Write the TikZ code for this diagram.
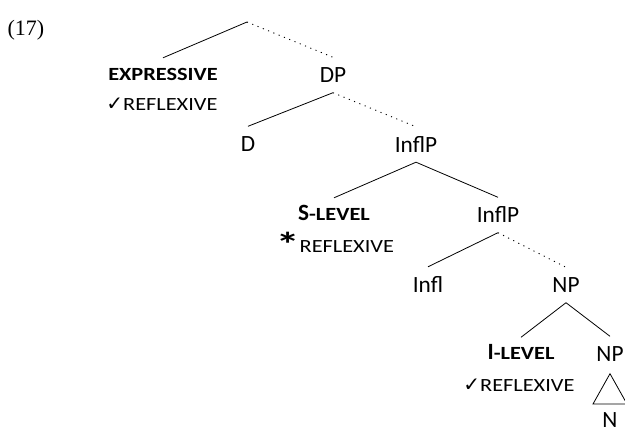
\documentclass[tikz,border=0pt]{standalone}
\usepackage{fontspec}
\usepackage{graphicx}
\setmainfont{Carlito}
\newfontfamily\exnumfont{Liberation Serif}
\newfontfamily\symfont{DejaVu Sans}
\newcommand\smc[1]{\scalebox{1.2}[1]{\fontsize{18.6pt}{18.6pt}\selectfont #1}}
\newcommand\chk{{\symfont\bfseries\fontsize{20pt}{20pt}\selectfont ✓}}
\newcommand\bigstarmark{\raisebox{-3.5pt}{\scalebox{1.4}[1]{\bfseries\fontsize{34pt}{34pt}\selectfont *}}}
\begin{document}
\begin{tikzpicture}[x=1pt,y=-1pt,
  lab/.style={inner xsep=0pt,inner ysep=10pt,text height=15pt,text depth=0pt,font=\fontsize{23.3pt}{23.3pt}\selectfont},
  sclab/.style={inner xsep=0pt,inner ysep=10pt,text height=12pt,text depth=0pt,font=\fontsize{23.3pt}{23.3pt}\selectfont},
  br/.style={line width=0.8pt},
  dotbr/.style={line width=0.9pt,dash pattern=on 1.1pt off 4.6pt}]
\useasboundingbox (0,0) rectangle (625,431);
\node[font=\exnumfont\fontsize{22pt}{22pt}\selectfont] (ex) at (26,30) {(17)};
\coordinate (top) at (247,22);
\node[sclab] (expr) at (163,74) {\bfseries\smc{EXPRESSIVE}};
\node[sclab] (refl1) at (162,104) {\chk\smc{REFLEXIVE}};
\node[lab] (dp) at (333,75) {DP};
\node[lab] (d) at (248,144) {D};
\node[lab] (inflp1) at (416,144.5) {InflP};
\node[sclab] (slevel) at (334,214) {\bfseries S\smc{-LEVEL}};
\node[sclab] (refl2) at (335,246.5) {\bigstarmark\smc{REFLEXIVE}};
\node[lab] (inflp2) at (498,215) {InflP};
\node[lab] (infl) at (428,284.5) {Infl};
\node[lab] (np1) at (566,285) {NP};
\node[sclab] (ilevel) at (521,353.5) {\bfseries I\smc{-LEVEL}};
\node[sclab] (refl3) at (519,385) {\chk\smc{REFLEXIVE}};
\node[lab] (np2) at (610,354) {NP};
\node[lab,inner ysep=2pt] (n) at (610,419.5) {N};
\draw[br] (top) -- (expr.north);
\draw[dotbr] (top) -- (dp.north);
\draw[br] (dp.south) -- (d.north);
\draw[dotbr] (dp.south) -- (inflp1.north);
\draw[br] (inflp1.south) -- (slevel.north);
\draw[br] (inflp1.south) -- (inflp2.north);
\draw[br] (inflp2.south) -- (infl.north);
\draw[dotbr] (inflp2.south) -- (np1.north);
\draw[br] (np1.south) -- (ilevel.north);
\draw[br] (np1.south) -- (np2.north);
\draw[br] ([yshift=-2pt]np2.south) -- (593,404) -- (627,404) -- cycle;
\end{tikzpicture}
\end{document}
